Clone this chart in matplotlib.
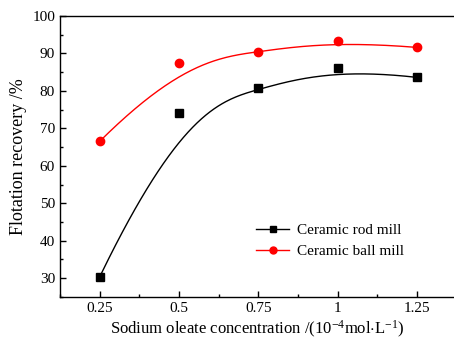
import matplotlib
matplotlib.use("Agg")
import matplotlib.pyplot as plt
import matplotlib.ticker as ticker
import numpy as np

# ---------------------------------------------------------------------------
# Data
# ---------------------------------------------------------------------------
concentration = [0.25, 0.5, 0.75, 1.0, 1.25]
rod_mill = [30.3, 74.0, 80.7, 86.0, 83.6]
ball_mill = [66.5, 87.5, 90.5, 93.3, 91.6]

plt.rcParams["font.family"] = ["Liberation Serif", "DejaVu Serif"]
plt.rcParams["mathtext.fontset"] = "custom"
plt.rcParams["mathtext.rm"] = "Liberation Serif"
plt.rcParams["mathtext.it"] = "Liberation Serif:italic"


def bspline(xs, ys, n=200, k=3):
    """Clamped B-spline using the data points as control points (Origin style)."""
    P = np.column_stack([xs, ys])
    m = len(P)
    inner = np.linspace(0, 1, m - k + 1)
    knots = np.concatenate([np.zeros(k), inner, np.ones(k)])
    t = np.linspace(0, 1, n)

    def basis(i, p, t):
        if p == 0:
            if knots[i + 1] == 1.0 and knots[i] < 1.0:
                return ((t >= knots[i]) & (t <= knots[i + 1])).astype(float)
            return ((t >= knots[i]) & (t < knots[i + 1])).astype(float)
        out = np.zeros_like(t)
        d1 = knots[i + p] - knots[i]
        d2 = knots[i + p + 1] - knots[i + 1]
        if d1 > 0:
            out += (t - knots[i]) / d1 * basis(i, p - 1, t)
        if d2 > 0:
            out += (knots[i + p + 1] - t) / d2 * basis(i + 1, p - 1, t)
        return out

    N = np.array([basis(i, k, t) for i in range(m)])
    curve = N.T @ P
    return curve[:, 0], curve[:, 1]


fig = plt.figure(figsize=(4.54, 3.39), dpi=100, facecolor="white")
ax = fig.add_axes([0.132, 0.124, 0.868, 0.829])

for ys, col, mk, lab in [(rod_mill, "black", "s", "Ceramic rod mill"),
                         (ball_mill, "red", "o", "Ceramic ball mill")]:
    cx, cy = bspline(concentration, ys)
    ax.plot(cx, cy, color=col, linewidth=1.0)
    ax.plot(concentration, ys, linestyle="none", marker=mk, color=col,
            markersize=6)
    ax.plot([], [], color=col, marker=mk, markersize=5, linewidth=1.0, label=lab)

ax.set_xlim(0.125, 1.367)
ax.set_ylim(25, 100)
ax.set_xticks(concentration)
ax.set_xticklabels(["0.25", "0.5", "0.75", "1", "1.25"])
ax.xaxis.set_minor_locator(ticker.MultipleLocator(0.125))
ax.yaxis.set_major_locator(ticker.MultipleLocator(10))
ax.yaxis.set_minor_locator(ticker.MultipleLocator(5))
ax.set_yticks(range(30, 101, 10))
ax.tick_params(which="both", direction="in", top=False, right=False,
               labelsize=11, width=1)
ax.tick_params(which="major", length=4)
ax.tick_params(which="minor", length=2.5)
ax.spines["right"].set_visible(False)
for s in ["left", "bottom", "top"]:
    ax.spines[s].set_linewidth(1.0)

ax.set_xlabel(r"Sodium oleate concentration /(10$^{-4}$mol$\cdot$L$^{-1}$)",
              fontsize=12, labelpad=3)
ax.set_ylabel("Flotation recovery /%", fontsize=13, labelpad=4)

ax.legend(loc="center", bbox_to_anchor=(0.685, 0.2), frameon=False,
          fontsize=11, handlelength=2.2, labelspacing=0.45, handletextpad=0.5)

fig.savefig("out.png", dpi=100, facecolor="white")
